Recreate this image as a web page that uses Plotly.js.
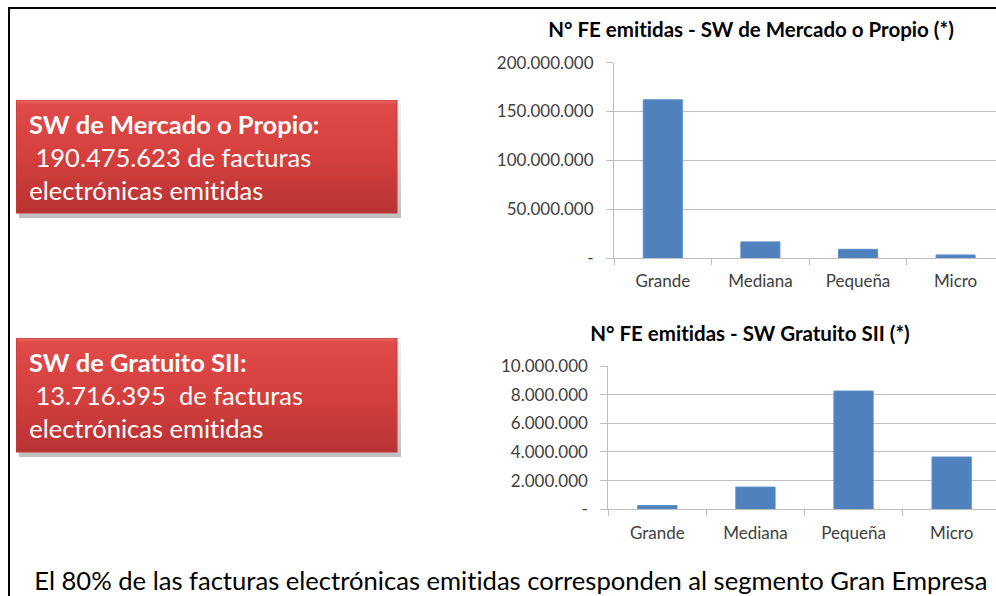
<!DOCTYPE html>
<html>
<head>
<meta charset="utf-8">
<script src="https://cdn.plot.ly/plotly-3.0.1.min.js"></script>
<style>
html,body{margin:0;padding:0;background:#fff;}
#chart{width:996px;height:596px;}
#chart text{font-variant-ligatures:none;font-feature-settings:"liga" 0,"clig" 0;}
</style>
</head>
<body>
<div id="chart"></div>
<script>
// ---- data ----
const categories = ["Grande", "Mediana", "Pequeña", "Micro"];
const mercadoValues = [162000000, 16500000, 8900000, 3100000];
const gratuitoValues = [260000, 1550000, 8250000, 3650000];
const mercadoTickVals = [0, 50000000, 100000000, 150000000, 200000000];
const mercadoTickText = ["-", "50.000.000", "100.000.000", "150.000.000", "200.000.000"];
const gratuitoTickVals = [0, 2000000, 4000000, 6000000, 8000000, 10000000];
const gratuitoTickText = ["-", "2.000.000", "4.000.000", "6.000.000", "8.000.000", "10.000.000"];
const titleMercado = "N° FE emitidas - SW de Mercado o Propio (*)";
const titleGratuito = "N° FE emitidas - SW Gratuito SII (*)";
const boxMercado = ["SW de Mercado o Propio:", " 190.475.623 de facturas", "electrónicas emitidas"];
const boxGratuito = ["SW de Gratuito SII:", " 13.716.395  de facturas", "electrónicas emitidas"];
const footerText = "El 80% de las facturas electrónicas emitidas corresponden al segmento Gran Empresa";

// ---- layout helpers ----
const W = 996, H = 596;
const px = x => x / W;
const py = y => 1 - y / H;
const barColor = "#4f81bd";
const gridColor = "#bfbfbf";
const textGray = "#404040";
const FONT = "Lato, 'Noto Sans', sans-serif";

const traces = [
  {type: "bar", x: categories, y: mercadoValues, xaxis: "x", yaxis: "y",
   marker: {color: barColor, line: {color: "#5b8cc6", width: 1}}, hoverinfo: "x+y"},
  {type: "bar", x: categories, y: gratuitoValues, xaxis: "x2", yaxis: "y2",
   marker: {color: barColor, line: {color: "#5b8cc6", width: 1}}, hoverinfo: "x+y"}
];

function yAxis(domain, range, vals, text, anchor) {
  return {domain: domain, range: range, anchor: anchor, tickmode: "array", tickvals: vals, ticktext: text,
    showgrid: true, gridcolor: gridColor, gridwidth: 1, showline: true, linecolor: gridColor, linewidth: 1,
    ticks: "outside", ticklen: 7, tickcolor: gridColor, tickfont: {family: FONT, size: 17, color: textGray},
    zeroline: false, fixedrange: true, ticklabelstandoff: 9};
}
function xAxis(domain, range, anchor) {
  return {domain: domain, range: range, anchor: anchor, type: "category", showline: true, linecolor: gridColor, linewidth: 1,
    ticks: "outside", tickson: "boundaries", ticklen: 6, tickcolor: gridColor, showgrid: false,
    tickfont: {family: FONT, size: 17, color: textGray}, fixedrange: true, ticklabelstandoff: 8};
}

function gradientBox(x0, y0, w, h) {
  const sw = w + 5, sh = h + 6;
  const svg = `<svg xmlns='http://www.w3.org/2000/svg' width='${sw}' height='${sh}'><defs>` +
    `<linearGradient id='g' x1='0' y1='0' x2='0' y2='1'><stop offset='0' stop-color='#ec6a66'/><stop offset='0.04' stop-color='#e04a48'/><stop offset='0.5' stop-color='#d4403e'/><stop offset='1' stop-color='#b83232'/></linearGradient>` +
    `<linearGradient id='s' x1='0' y1='0' x2='0' y2='1'><stop offset='0' stop-color='#000' stop-opacity='0.05'/><stop offset='1' stop-color='#000' stop-opacity='0.25'/></linearGradient></defs>` +
    `<rect x='3' y='4' width='${w + 1}' height='${h + 1}' fill='url(#s)'/>` +
    `<rect x='0' y='0' width='${w}' height='${h}' fill='url(#g)' stroke='#c03a38' stroke-width='1'/></svg>`;
  return {source: "data:image/svg+xml;charset=utf-8," + encodeURIComponent(svg), xref: "paper", yref: "paper",
    x: px(x0), y: py(y0), sizex: sw / W, sizey: sh / H, xanchor: "left", yanchor: "top", sizing: "stretch", layer: "below"};
}

function boxAnnotations(lines, x0, yFirst) {
  return lines.map((t, i) => ({xref: "paper", yref: "paper", x: px(x0), y: py(yFirst + i * 33), xanchor: "left", yanchor: "middle",
    text: i === 0 ? "<b>" + t + "</b>" : t.replace(/ /g, "&nbsp;"), showarrow: false,
    font: {family: FONT, size: i === 0 ? 25.5 : 25.5, color: "#ffffff"}}));
}

const layout = {
  width: W, height: H, margin: {l: 0, r: 0, t: 0, b: 0}, paper_bgcolor: "#ffffff", plot_bgcolor: "rgba(0,0,0,0)",
  showlegend: false, bargap: 0.6,
  xaxis: xAxis([px(614), 1], [-0.5, -0.5 + (996 - 614) / 97.6], "y"),
  yaxis: yAxis([py(258), py(62.7)], [0, 200000000], mercadoTickVals, mercadoTickText, "x"),
  xaxis2: xAxis([px(608.3), 1], [-0.5, -0.5 + (996 - 608.3) / 98.1], "y2"),
  yaxis2: yAxis([py(509.3), py(366)], [0, 10000000], gratuitoTickVals, gratuitoTickText, "x2"),
  images: [gradientBox(16, 100, 381, 113), gradientBox(16, 338, 381, 114)],
  shapes: [
    {type: "line", xref: "paper", yref: "paper", x0: px(9), x1: 1, y0: py(8), y1: py(8), line: {color: "#000", width: 2}},
    {type: "line", xref: "paper", yref: "paper", x0: px(9), x1: px(9), y0: py(7), y1: 0, line: {color: "#000", width: 2}}
  ],
  annotations: [
    {xref: "paper", yref: "paper", x: px(751), y: py(29), text: "<b>" + titleMercado + "</b>", showarrow: false,
     xanchor: "center", yanchor: "middle", font: {family: FONT, size: 20.5, color: "#000"}},
    {xref: "paper", yref: "paper", x: px(750), y: py(333), text: "<b>" + titleGratuito + "</b>", showarrow: false,
     xanchor: "center", yanchor: "middle", font: {family: FONT, size: 20.5, color: "#000"}},
    {xref: "paper", yref: "paper", x: px(32), y: py(580), text: footerText, showarrow: false,
     xanchor: "left", yanchor: "middle", font: {family: FONT, size: 25.6, color: "#000"}}
  ].concat(boxAnnotations(boxMercado, 27, 124)).concat(boxAnnotations(boxGratuito, 27, 362))
};

Plotly.newPlot("chart", traces, layout, {displayModeBar: false, staticPlot: true});
</script>
</body>
</html>
